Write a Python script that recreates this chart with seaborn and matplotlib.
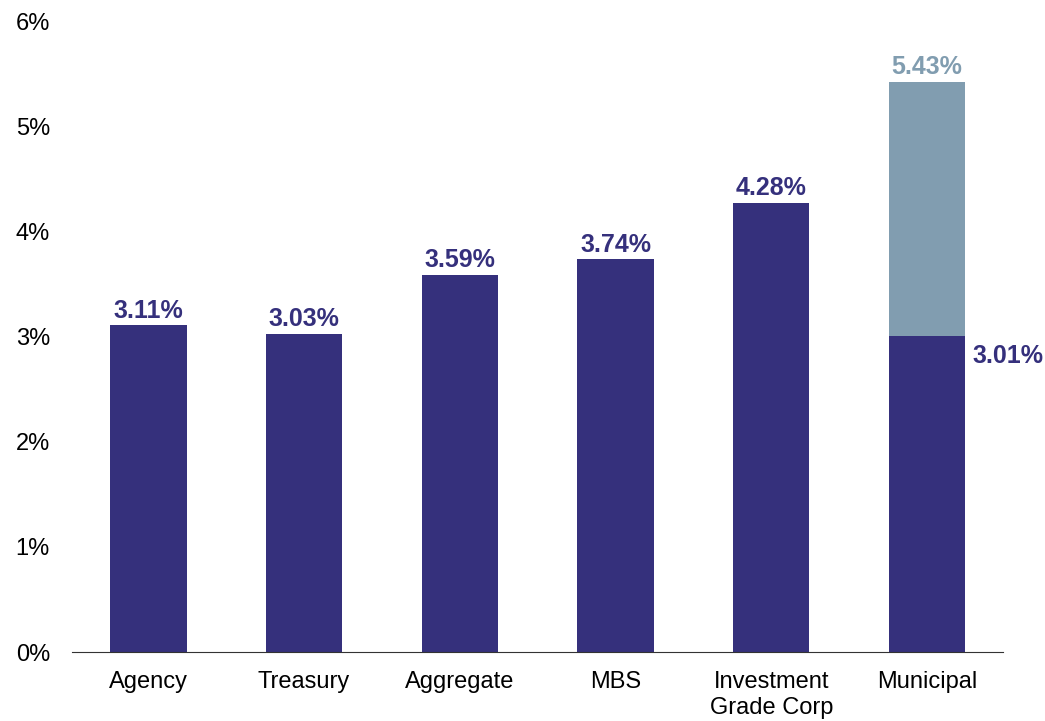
import matplotlib
matplotlib.use("Agg")
import matplotlib.pyplot as plt
import seaborn as sns
import pandas as pd

categories = ["Agency", "Treasury", "Aggregate", "MBS", "Investment\nGrade Corp", "Municipal"]
yield_values = [3.11, 3.03, 3.59, 3.74, 4.28, 3.01]
tax_equiv_values = [0, 0, 0, 0, 0, 5.43]
y_ticks = [0, 1, 2, 3, 4, 5, 6]
y_tick_labels = ["0%", "1%", "2%", "3%", "4%", "5%", "6%"]

navy = "#35307C"
slate = "#819DB0"

sns.set_theme(style="white")
plt.rcParams["font.family"] = ["Liberation Sans", "DejaVu Sans"]

df = pd.DataFrame({"cat": categories, "yield": yield_values, "teq": tax_equiv_values})

fig = plt.figure(figsize=(10.45, 7.21), dpi=100)
ax = fig.add_axes([0.069, 0.0957, 0.891, 0.8738])

sns.barplot(data=df, x="cat", y="teq", order=categories, color=slate, saturation=1,
            width=0.49, linewidth=0, ax=ax)
sns.barplot(data=df, x="cat", y="yield", order=categories, color=navy, saturation=1,
            width=0.49, linewidth=0, ax=ax)

lab_fs = 18
for i, (v, t) in enumerate(zip(yield_values, tax_equiv_values)):
    if t > 0:
        ax.annotate(f"{t:.2f}%", (i, t), xytext=(0, 2), textcoords="offset points",
                    ha="center", va="bottom", fontsize=lab_fs, fontweight="bold", color=slate)
        ax.annotate(f"{v:.2f}%", (i + 0.245, v), xytext=(5, -6), textcoords="offset points",
                    ha="left", va="top", fontsize=lab_fs, fontweight="bold", color=navy)
    else:
        ax.annotate(f"{v:.2f}%", (i, v), xytext=(0, 2), textcoords="offset points",
                    ha="center", va="bottom", fontsize=lab_fs, fontweight="bold", color=navy)

ax.set_xlim(-0.49, 5.49)
ax.set_ylim(0, 6)
ax.set_yticks(y_ticks)
ax.set_yticklabels(y_tick_labels)
ax.set_xlabel("")
ax.set_ylabel("")
for s in ["top", "right", "left"]:
    ax.spines[s].set_visible(False)
ax.spines["bottom"].set_color("#333333")
ax.spines["bottom"].set_linewidth(0.8)
ax.tick_params(axis="y", length=0, pad=16, labelsize=17, labelcolor="black")
ax.tick_params(axis="x", length=0, pad=14, labelsize=17, labelcolor="black")
for lbl in ax.get_xticklabels():
    lbl.set_linespacing(1.2)

fig.savefig("out.png", dpi=100)
